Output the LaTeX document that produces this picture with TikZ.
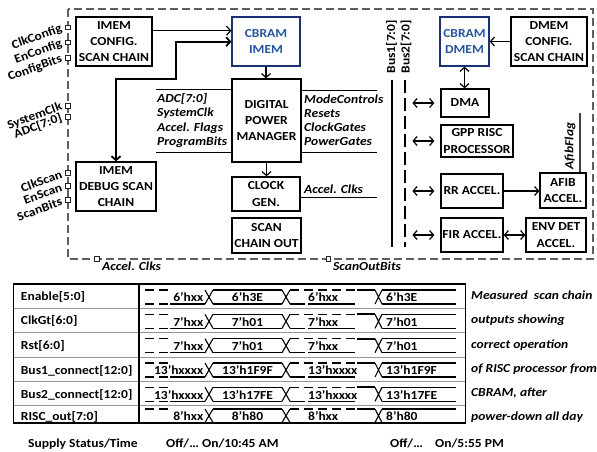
\documentclass[tikz,border=0pt]{standalone}
\usepackage{fontspec}
\setmainfont{Carlito}[FakeStretch=1.1]
\usetikzlibrary{arrows.meta}
\definecolor{cbline}{RGB}{28,48,118}
\definecolor{cbtext}{RGB}{38,84,158}
\definecolor{chipgray}{RGB}{95,95,95}
\definecolor{sepgray}{RGB}{150,150,150}
\newcommand{\wavrow}[5]{%
  \draw[wdash] (145,#2) -- (172,#2);
  \draw[wdash] (145,#3) -- (170,#3);
  \draw[wl] (170,#3) -- (205,#3);
  \node[wtxt, anchor=base east] (#1a) at (203.5,#3-2.3) {#4};
  \draw[wl] (205,#2) -- (213,#3) (205,#3) -- (213,#2);
  \draw[wl] (213,#2) -- (282,#2) (213,#3) -- (282,#3);
  \node[wtxt, anchor=base] (#1b) at (247.5,#3-2.3) {#5};
  \draw[wl] (282,#2) -- (290,#3) (282,#3) -- (290,#2);
  \draw[wdash] (290,#2) -- (355,#2);
  \draw[wl] (290,#3) -- (305,#3) (308,#3) -- (355,#3);
  \node[wtxt, anchor=base west] (#1c) at (308,#3-2.3) {#4};
  \draw[line width=2pt] (357,#2) -- (375,#2);
  \draw[wl] (375,#2) -- (382,#3) (375,#3) -- (382,#2);
  \draw[wl] (382,#2) -- (456,#2) (382,#3) -- (456,#3);
  \node[wtxt, anchor=base west] (#1d) at (386,#3-2.3) {#5};
}
\begin{document}
\begin{tikzpicture}[x=1pt,y=-1pt,
  base font/.style={font=\fontsize{12.3}{16.3}\selectfont\bfseries},
  blk/.style={draw, line width=1.3pt, fill=white, inner sep=0pt, align=center, base font},
  cbblk/.style={blk, draw=cbline, text=cbtext},
  lst/.style={inner sep=0pt, align=left, font=\fontsize{12.3}{14.1}\selectfont\bfseries\itshape},
  lbl/.style={inner sep=0pt, font=\fontsize{12.3}{14}\selectfont\bfseries},
  ilbl/.style={inner sep=0pt, font=\fontsize{12.3}{14}\selectfont\bfseries\itshape},
  pinsq/.style={draw=black!85, fill=white, line width=0.8pt, minimum size=4.8pt, inner sep=0pt},
  pinlbl/.style={lbl, rotate=20, anchor=east},
  ln/.style={line width=1.2pt},
  arr/.style={line width=1.2pt, -{Straight Barb[length=4pt,width=9pt]}},
  darr/.style={line width=1.2pt, {Straight Barb[length=4pt,width=9pt]}-{Straight Barb[length=4pt,width=9pt]}},
  wl/.style={line width=1.1pt},
  wdash/.style={line width=1.1pt, dash pattern=on 9pt off 5pt},
  wtxt/.style={lbl},
]
\useasboundingbox[fill=white] (0,0) rectangle (597,451);

% chip outline
\draw[chipgray, line width=1.2pt, dash pattern=on 8pt off 4pt] (68,9) rectangle (593,259);

% blocks
\node[blk, minimum width=76pt, minimum height=49pt] (icfg) at (114,41.5) {IMEM\\CONFIG.\\SCAN CHAIN};
\node[cbblk, minimum width=68pt, minimum height=49pt] (cbi) at (266,41.5) {CBRAM\\IMEM};
\node[blk, minimum width=69pt, minimum height=83pt] (dpm) at (266.5,120.5) {DIGITAL\\POWER\\MANAGER};
\node[blk, minimum width=68pt, minimum height=34pt] (ckg) at (266,194) {CLOCK\\GEN.};
\node[blk, minimum width=69pt, minimum height=35pt] (sco) at (266.5,235.5) {SCAN\\CHAIN OUT};
\node[blk, minimum width=80pt, minimum height=49pt] (idbg) at (116,186.5) {IMEM\\DEBUG SCAN\\CHAIN};
\node[cbblk, minimum width=49pt, minimum height=49pt] (cbd) at (464.5,41.5) {CBRAM\\DMEM};
\node[blk, minimum width=76pt, minimum height=49pt] (dcfg) at (549,41.5) {DMEM\\CONFIG.\\SCAN CHAIN};
\node[blk, minimum width=48pt, minimum height=28pt] (dma) at (465,103) {DMA};
\node[blk, minimum width=72pt, minimum height=32pt] (gpp) at (477,141) {GPP RISC\\PROCESSOR};
\node[blk, minimum width=62pt, minimum height=34pt] (rr) at (472,191) {RR ACCEL.};
\node[blk, minimum width=46pt, minimum height=35pt] (afib) at (563,190.5) {AFIB\\ACCEL.};
\node[blk, minimum width=62pt, minimum height=34pt] (fir) at (472,235) {FIR ACCEL.};
\node[blk, minimum width=60pt, minimum height=34pt] (env) at (556,235) {ENV DET\\ACCEL.};

% connectors
\draw[arr] (icfg.east |- 0,30.7) -- (cbi.west |- 0,30.7);
\draw[darr, line width=1.8pt] (idbg.north) -- (116,79) -- (176,79) -- (176,41.7) -- (cbi.west |- 0,41.7);
\draw[arr] (cbi.south) -- (cbi.south |- dpm.north);
\draw[arr] (dpm.south) -- (dpm.south |- ckg.north);
\draw[arr] (dcfg.west) -- (cbd.east);
\draw[darr] (cbd.south) -- (cbd.south |- dma.north);
\draw[arr] (rr.east) -- (afib.west |- rr.east);
\draw[darr] (fir.east) -- (env.west);

% DPM inputs / outputs
\coordinate (adct) at (156,89.3);
\coordinate (adcb) at (156,152.7);
\draw[ln] (dpm.west |- adct) -- (adct);
\draw[ln] (dpm.west |- adcb) -- (adcb);
\node[lst, anchor=west] (inl) at (157,120.5) {ADC[7:0]\\SystemClk\\Accel. Flags\\ProgramBits};
\coordinate (mct) at (377,90.7);
\coordinate (mcb) at (377,152.7);
\draw[ln] (dpm.east |- mct) -- (mct);
\draw[ln] (dpm.east |- mcb) -- (mcb);
\node[lst, anchor=west] (outl) at (304,120) {ModeControls\\Resets\\ClockGates\\PowerGates};
\coordinate (acc) at (377,197.5);
\draw[ln] (ckg.east |- acc) -- (acc);
\node[ilbl, anchor=base west] (accl) at (304,193.5) {Accel. Clks};

% buses
\coordinate (b1t) at (391.7,80);
\coordinate (b1b) at (391.7,247);
\coordinate (b2t) at (405.3,80);
\coordinate (b2b) at (405.3,247);
\draw[line width=2pt] (b1t) -- (b1b);
\draw[line width=2pt, dash pattern=on 13pt off 5pt] (b2t) -- (b2b);
\node[lbl, rotate=90] (b1l) at (391.5,46.7) {Bus1[7:0]};
\node[lbl, rotate=90] (b2l) at (406,46.7) {Bus2[7:0]};
\draw[darr] ([xshift=-6pt]dma.west) -- ([xshift=-28pt]dma.west);
\draw[darr] ([xshift=-6pt]gpp.west) -- ([xshift=-28pt]gpp.west);
\draw[darr] ([xshift=-6pt]rr.west) -- ([xshift=-28pt]rr.west);
\draw[darr] ([xshift=-6pt]fir.west) -- ([xshift=-28pt]fir.west);

% AfibFlag
\coordinate (aft) at (580,113);
\draw[line width=1.5pt, black!75] (afib.north -| aft) -- (aft);
\node[ilbl, rotate=90] (afl) at (570,146) {AfibFlag};

% pins
\node[pinsq] (p1) at (68,27.3) {};
\node[pinsq] (p2) at (68,42.3) {};
\node[pinsq] (p3) at (68,57.5) {};
\node[pinsq] (p4) at (68,105.5) {};
\node[pinsq] (p5) at (68,116.7) {};
\node[pinsq] (p6) at (68,172.7) {};
\node[pinsq] (p7) at (68,186) {};
\node[pinsq] (p8) at (68,200) {};
\node[pinsq] (p9) at (97,258.5) {};
\node[pinsq] (p10) at (328.3,258.5) {};
\node[pinlbl] (l1) at ([xshift=-3.5pt,yshift=-1pt]p1.west) {ClkConfig};
\node[pinlbl] (l2) at ([xshift=-3.5pt,yshift=-1pt]p2.west) {EnConfig};
\node[pinlbl] (l3) at ([xshift=-3.5pt,yshift=-1pt]p3.west) {ConfigBits};
\node[pinlbl] (l4) at ([xshift=-3.5pt,yshift=-1pt]p4.west) {SystemClk};
\node[pinlbl] (l5) at ([xshift=-3.5pt,yshift=-1pt]p5.west) {ADC[7:0]};
\node[pinlbl] (l6) at ([xshift=-3.5pt,yshift=-1pt]p6.west) {ClkScan};
\node[pinlbl] (l7) at ([xshift=-3.5pt,yshift=-1pt]p7.west) {EnScan};
\node[pinlbl] (l8) at ([xshift=-3.5pt,yshift=-1pt]p8.west) {ScanBits};
\node[ilbl, anchor=base west] (l9) at (102,270) {Accel. Clks};
\node[ilbl, anchor=base west] (l10) at (333,270.5) {ScanOutBits};

% table
\draw[sepgray, line width=0.8pt] (13.3,308.3) -- (465.7,308.3) (13.3,332.7) -- (465.7,332.7)
  (13.3,357) -- (465.7,357) (13.3,381.3) -- (465.7,381.3) (13.3,405.7) -- (465.7,405.7);
\draw[line width=1.1pt] (139,284) -- (139,423);
\draw[line width=1.4pt] (13.3,284) rectangle (465.7,423);
\node[lbl, anchor=base west] (t1) at (20.7,300) {Enable[5:0]};
\node[lbl, anchor=base west] (t2) at (20.7,324.7) {ClkGt[6:0]};
\node[lbl, anchor=base west] (t3) at (20.7,349) {Rst[6:0]};
\node[lbl, anchor=base west] (t4) at (20.7,374) {Bus1\_connect[12:0]};
\node[lbl, anchor=base west] (t5) at (20.7,398.3) {Bus2\_connect[12:0]};
\node[lbl, anchor=base west] (t6) at (20.7,420.5) {RISC\_out[7:0]};
\wavrow{en}{290}{304}{6’hxx}{6’h3E}
\wavrow{ck}{314.3}{328.3}{7’hxx}{7’h01}
\wavrow{rs}{338.7}{352.7}{7’hxx}{7’h01}
\wavrow{bo}{363}{377}{13’hxxxx}{13’h1F9F}
\wavrow{bt}{387.3}{401.3}{13’hxxxx}{13’h17FE}
\wavrow{ri}{409}{422.5}{8’hxx}{8’h80}
\node[lbl, anchor=base west] (s1) at (28,447.5) {Supply Status/Time};
\node[lbl, anchor=base west] (s2) at (166,447.5) {Off/…};
\node[lbl, anchor=base west] (s3) at (202,447.5) {On/10:45 AM};
\node[lbl, anchor=base west] (s4) at (390,447.5) {Off/…};
\node[lbl, anchor=base west] (s5) at (435,447.5) {On/5:55 PM};
\node[inner sep=0pt, align=left, anchor=north west, font=\fontsize{12.3}{24.1}\selectfont\bfseries\itshape] (cap) at (471,291)
  {Measured~ scan chain\\outputs showing\\correct operation\\of RISC processor from\\CBRAM, after\\power-down all day};
\end{tikzpicture}
\end{document}
